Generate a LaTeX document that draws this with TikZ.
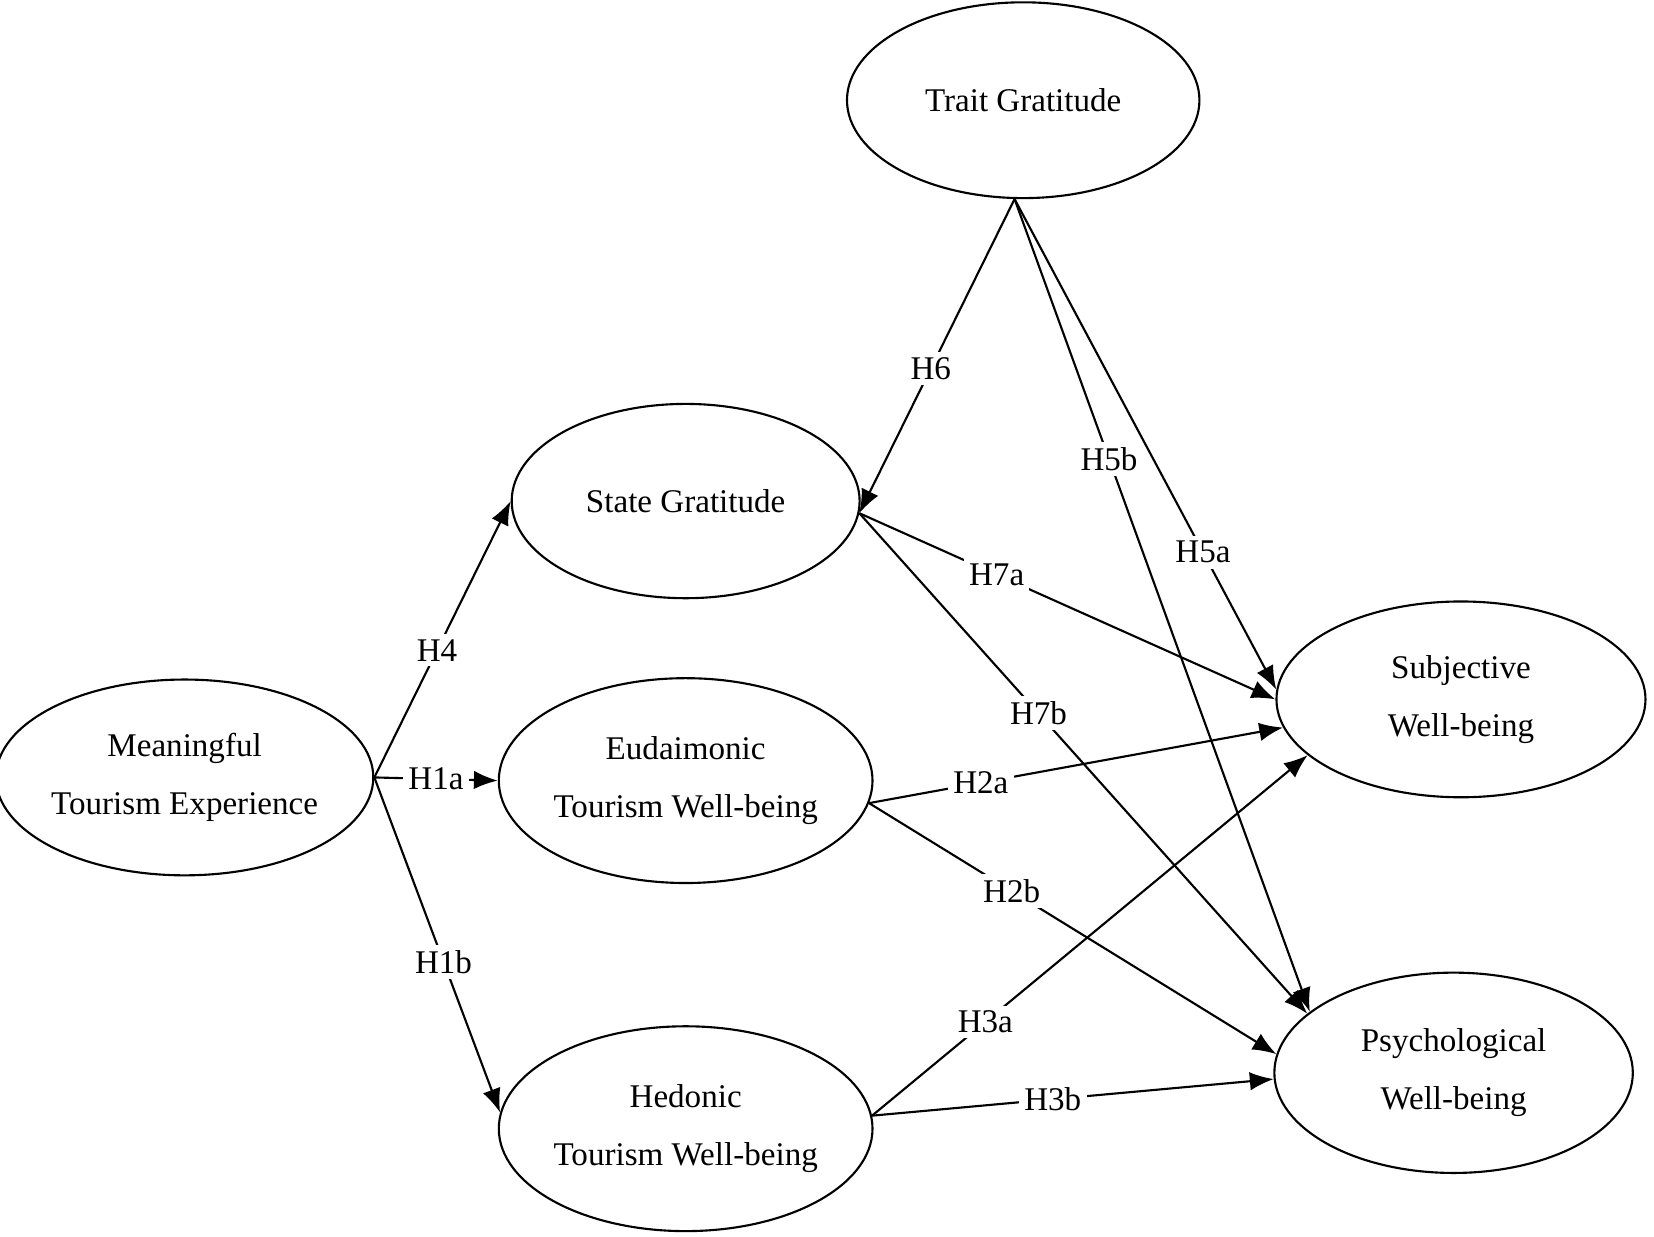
\documentclass[tikz,border=0pt]{standalone}
\usepackage{fontspec}
\setmainfont{Liberation Serif}
\usetikzlibrary{arrows.meta,shapes.geometric}
\begin{document}
\begin{tikzpicture} [
  x=0.014cm, y=-0.014cm,
  line width=0.8pt,
  >={Latex[length=9pt,width=7pt]},
  font=\fontsize{12.5}{22}\selectfont,
  latent/.style={ellipse,draw,align=center,inner sep=0pt},
  hyp/.style={fill=white,inner sep=2pt},
  ]
  \useasboundingbox (0,0) rectangle (1568,1172);

  \node[latent, minimum width=4.68cm, minimum height=2.6cm] (trait) at (970,95) {Trait Gratitude};
  \node[latent, minimum width=4.62cm, minimum height=2.58cm] (state) at (650,475) {State Gratitude};
  \node[latent, minimum width=4.62cm, minimum height=2.6cm] (mte) at (175,737) {Meaningful\\Tourism Experience};
  \node[latent, minimum width=4.7cm, minimum height=2.72cm] (eud) at (650,740) {Eudaimonic\\Tourism Well-being};
  \node[latent, minimum width=4.7cm, minimum height=2.72cm] (hed) at (650,1070) {Hedonic\\Tourism Well-being};
  \node[latent, minimum width=4.9cm, minimum height=2.6cm] (swb) at (1385,663) {Subjective\\Well-being};
  \node[latent, minimum width=4.76cm, minimum height=2.66cm] (pwb) at (1378,1017) {Psychological\\Well-being};

  \draw[->] (trait.265) -- node[hyp, pos=0.54] {H6} (state.-4);
  \draw[->] (trait.265) -- node[hyp, pos=0.32] {H5b} (pwb.157);
  \draw[->] (trait.265) -- node[hyp, pos=0.72] {H5a} (swb.177);
  \draw[->] (state.-4) -- node[hyp, pos=0.33] {H7a} (swb.180);
  \draw[->] (state.-4) -- node[hyp, pos=0.40] {H7b} (pwb.158);
  \draw[->] (mte.east) -- node[hyp, pos=0.46] {H4} (state.west);
  \draw[->] (mte.east) -- node[hyp, pos=0.5] {H1a} (eud.west);
  \draw[->] (mte.east) -- node[hyp, pos=0.55] {H1b} (hed.175);
  \draw[->] (eud.-7) -- node[hyp, pos=0.27] {H2a} (swb.189);
  \draw[->] (eud.-7) -- node[hyp, pos=0.35] {H2b} (pwb.174);
  \draw[->] (hed.4) -- node[hyp, pos=0.26] {H3a} (swb.200);
  \draw[->] (hed.4) -- node[hyp, pos=0.45] {H3b} (pwb.182);
\end{tikzpicture}
\end{document}
